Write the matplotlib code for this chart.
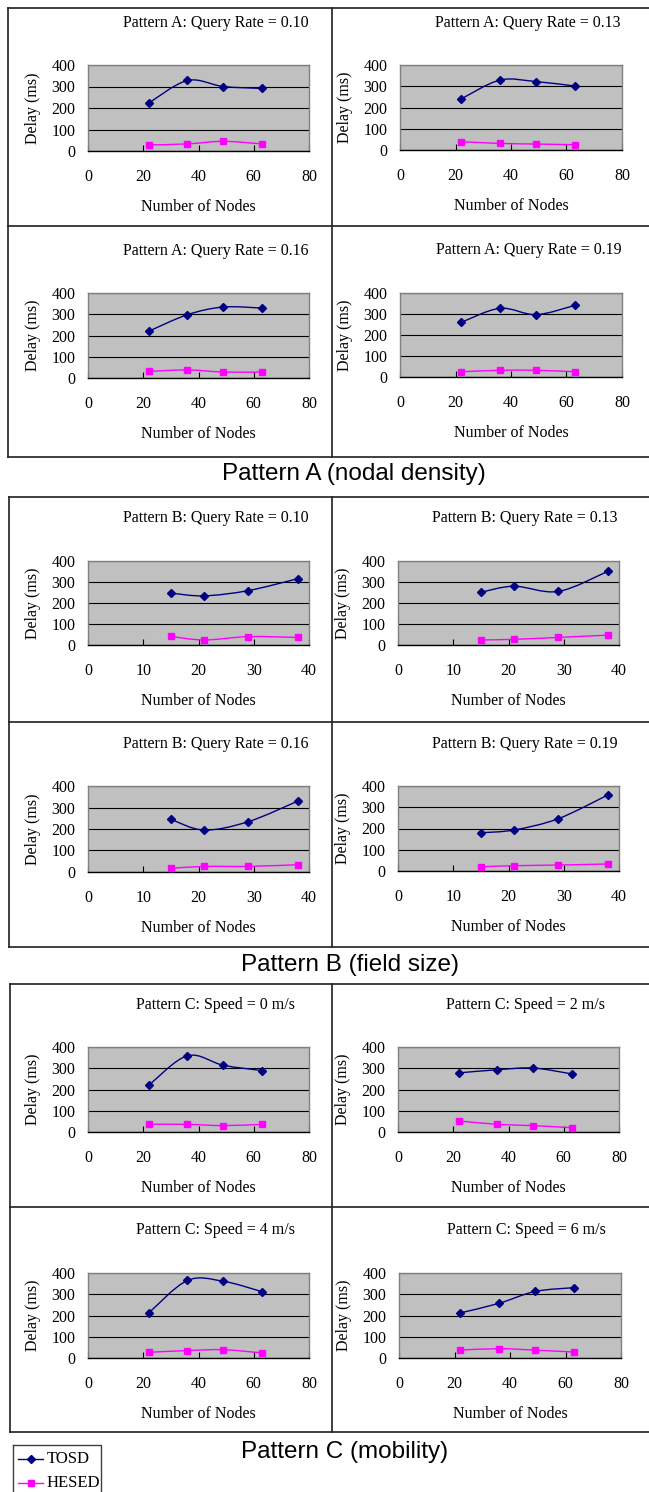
import numpy as np
import matplotlib
matplotlib.use('Agg')
import matplotlib.pyplot as plt
from matplotlib.path import Path
from matplotlib.patches import PathPatch
from matplotlib.lines import Line2D

# ---------------- data ----------------
nodes_A = [22, 36, 49, 63]
nodes_B = [15, 21, 29, 38]
nodes_C = [22, 36, 49, 63]

titles_A = ["Pattern A: Query Rate = 0.10", "Pattern A: Query Rate = 0.13",
            "Pattern A: Query Rate = 0.16", "Pattern A: Query Rate = 0.19"]
titles_B = ["Pattern B: Query Rate = 0.10", "Pattern B: Query Rate = 0.13",
            "Pattern B: Query Rate = 0.16", "Pattern B: Query Rate = 0.19"]
titles_C = ["Pattern C: Speed = 0 m/s", "Pattern C: Speed = 2 m/s",
            "Pattern C: Speed = 4 m/s", "Pattern C: Speed = 6 m/s"]

tosd_A = [[223, 328, 300, 291], [240, 329, 322, 301],
          [220, 298, 334, 329], [260, 327, 297, 341]]
hesed_A = [[28, 33, 45, 33], [39, 31, 28, 25],
           [31, 38, 28, 28], [25, 32, 32, 25]]

tosd_B = [[247, 234, 259, 316], [251, 280, 255, 351],
          [245, 195, 234, 330], [180, 193, 246, 358]]
hesed_B = [[41, 24, 40, 36], [24, 27, 36, 47],
           [17, 26, 26, 34], [20, 25, 28, 33]]

tosd_C = [[220, 359, 314, 289], [278, 293, 301, 273],
          [212, 365, 361, 312], [212, 257, 313, 331]]
hesed_C = [[36, 36, 30, 36], [52, 36, 30, 20],
           [27, 35, 39, 24], [37, 44, 37, 28]]

section_labels = ["Pattern A (nodal density)", "Pattern B (field size)", "Pattern C (mobility)"]
series_names = ["TOSD", "HESED"]
x_ticks_AC = [0, 20, 40, 60, 80]
x_ticks_B = [0, 10, 20, 30, 40]
y_ticks = [0, 100, 200, 300, 400]

# ---------------- style ----------------
W, H = 649, 1492
SERIF = ['Liberation Serif', 'DejaVu Serif']
SANS = ['Liberation Sans', 'DejaVu Sans']
TOSD_C = '#000080'
HESED_C = '#FF00FF'
PLOT_BG = '#C0C0C0'
FS = 11.5

fig = plt.figure(figsize=(W / 100, H / 100), dpi=100)

# overlay for frames / free text, in pixel coordinates
ov = fig.add_axes([0, 0, 1, 1], zorder=-5)
ov.set_xlim(0, W)
ov.set_ylim(H, 0)
ov.axis('off')


def add_axes_px(x0, y0, x1, y1):
    return fig.add_axes([x0 / W, 1 - y1 / H, (x1 - x0) / W, (y1 - y0) / H])


def smooth_path(xs, ys):
    pts = np.column_stack([xs, ys]).astype(float)
    n = len(pts)
    verts = [pts[0]]
    codes = [Path.MOVETO]
    for i in range(n - 1):
        p0 = pts[i - 1] if i > 0 else pts[i]
        p1 = pts[i]
        p2 = pts[i + 1]
        p3 = pts[i + 2] if i + 2 < n else pts[i + 1]
        c1 = p1 + (p2 - p0) / 6.0
        c2 = p2 - (p3 - p1) / 6.0
        verts += [c1, c2, p2]
        codes += [Path.CURVE4] * 3
    return Path(verts, codes)


def panel(box, title, xs, tosd, hesed, xticks, title_xy):
    x0, y0, x1, y1 = box
    ax = add_axes_px(*box)
    ax.set_facecolor(PLOT_BG)
    ax.set_xlim(xticks[0], xticks[-1])
    ax.set_ylim(0, 400)
    ax.set_xticks(xticks)
    ax.set_yticks(y_ticks)
    ax.set_xticklabels([str(t) for t in xticks], fontfamily=SERIF, fontsize=FS)
    ax.set_yticklabels([str(t) for t in y_ticks], fontfamily=SERIF, fontsize=FS)
    ax.tick_params(axis='x', direction='in', length=4, width=0.8, pad=13, colors='black')
    ax.tick_params(axis='y', length=0, pad=9)
    ax.yaxis.grid(True, color='black', linewidth=0.8)
    ax.set_axisbelow(True)
    for s in ['top', 'right', 'left']:
        ax.spines[s].set_color('#808080')
        ax.spines[s].set_linewidth(1.0)
    ax.spines['bottom'].set_color('black')
    ax.spines['bottom'].set_linewidth(1.0)

    for ys, col, mk, ms in [(tosd, TOSD_C, 'D', 4.0), (hesed, HESED_C, 's', 4.0)]:
        ax.add_patch(PathPatch(smooth_path(xs, ys), facecolor='none', edgecolor=col,
                               linewidth=1.0, zorder=3))
        ax.plot(xs, ys, linestyle='none', marker=mk, markersize=ms, color=col,
                markeredgecolor=col, zorder=4, clip_on=False)

    ov.text(title_xy[0], title_xy[1], title, fontfamily=SERIF, fontsize=FS,
            ha='center', va='center')
    ov.text((x0 + x1) / 2, y1 + 56, "Number of Nodes", fontfamily=SERIF, fontsize=FS,
            ha='center', va='center')
    ov.text(x0 - 55, (y0 + y1) / 2, "Delay (ms)", fontfamily=SERIF, fontsize=FS,
            ha='center', va='center', rotation=90)
    return ax


sections = [
    dict(nodes=nodes_A, titles=titles_A, tosd=tosd_A, hesed=hesed_A, xticks=x_ticks_AC,
         boxes=[(88, 65, 309, 151), (400, 65, 622, 150), (88, 293, 309, 378), (400, 293, 622, 377)],
         tpos=[(216, 23), (528, 23), (216, 251), (529, 250)],
         frame=(8, 8, 226, 457), label_xy=(354, 474)),
    dict(nodes=nodes_B, titles=titles_B, tosd=tosd_B, hesed=hesed_B, xticks=x_ticks_B,
         boxes=[(88, 561, 309, 645), (398, 561, 619, 645), (88, 786, 309, 872), (398, 786, 619, 871)],
         tpos=[(216, 518), (525, 518), (216, 744), (525, 744)],
         frame=(9, 497, 722, 947), label_xy=(350, 965)),
    dict(nodes=nodes_C, titles=titles_C, tosd=tosd_C, hesed=hesed_C, xticks=x_ticks_AC,
         boxes=[(88, 1047, 309, 1132), (398, 1047, 619, 1132), (88, 1273, 309, 1358), (399, 1273, 621, 1358)],
         tpos=[(215, 1005), (525, 1005), (215, 1230), (526, 1230)],
         frame=(10, 984, 1207, 1432), label_xy=(345, 1452)),
]

for si, sec in enumerate(sections):
    for k in range(4):
        panel(sec['boxes'][k], sec['titles'][k], sec['nodes'], sec['tosd'][k], sec['hesed'][k],
              sec['xticks'], sec['tpos'][k])
    left, top, mid, bottom = sec['frame']
    fc = '#202020'
    lw = 1.2
    ov.plot([left, W + 5], [top, top], color=fc, lw=lw)
    ov.plot([left, W + 5], [bottom, bottom], color=fc, lw=lw)
    ov.plot([left, W + 5], [mid, mid], color=fc, lw=lw)
    ov.plot([left, left], [top, bottom], color=fc, lw=lw)
    ov.plot([332, 332], [top, bottom], color=fc, lw=lw)
    ov.text(sec['label_xy'][0], sec['label_xy'][1], section_labels[si], fontfamily=SANS,
            fontsize=17.5, ha='center', va='center')

# legend box at bottom-left
ov.plot([13, 101, 101], [1445, 1445, H + 5], color='#404040', lw=1.0)
ov.plot([13, 13], [1445, H + 5], color='#404040', lw=1.0)
for name, col, mk, yy in [(series_names[0], TOSD_C, 'D', 1459), (series_names[1], HESED_C, 's', 1483)]:
    ov.plot([18, 43], [yy, yy], color=col, lw=1.0)
    ov.plot([30.5], [yy], marker=mk, color=col, markersize=4.0)
    ov.text(47, yy, name, fontfamily=SERIF, fontsize=FS + 0.5, ha='left', va='center')

fig.savefig('out.png', dpi=100)
